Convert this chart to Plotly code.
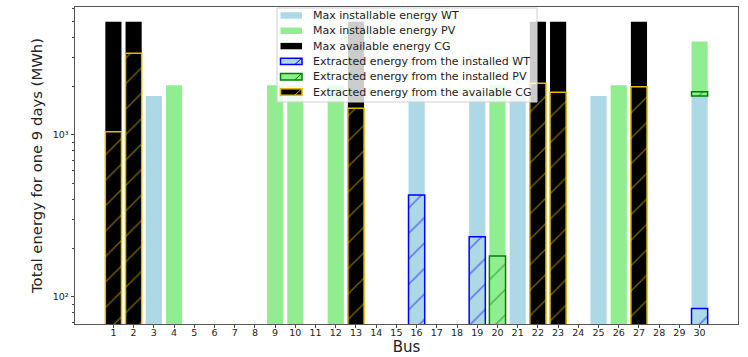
import plotly.graph_objects as go

# Max installable / available energy per bus (MWh)
wt_bus = [3, 16, 19, 21, 25, 30]
wt_max = [1740, 1740, 1740, 1740, 1740, 1740]

pv_bus = [4, 9, 10, 12, 20, 26]
pv_max = [2030, 2030, 2030, 2030, 2030, 2030]
pv_stacked_bus = [30]          # PV stacked on top of WT at bus 30
pv_stacked_max = [2030]

cg_bus = [1, 2, 13, 22, 23, 27]
cg_max = [5000, 5000, 5000, 5000, 5000, 5000]

# Extracted energy
wt_ext_bus = [16, 19, 30]
wt_ext = [426, 235, 85]

pv_ext_bus = [20]
pv_ext = [179]
pv_ext_stacked_bus = [30]
pv_ext_stacked = [110]

cg_ext_bus = [1, 2, 13, 22, 23, 27]
cg_ext = [1045, 3200, 1460, 2084, 1834, 1987]

tick_buses = list(range(1, 31))

legend_labels = [
    "Max installable energy WT",
    "Max installable energy PV",
    "Max available energy CG",
    "Extracted energy from the installed WT",
    "Extracted energy from the installed PV",
    "Extracted energy from the available CG",
]

WT_C = "#ADD8E6"
PV_C = "#90EE90"
CG_C = "#000000"
WT_E = "#0000FF"
PV_E = "#008000"
CG_E = "#E0BC00"
W = 0.8

legend_fill = [WT_C, PV_C, CG_C, WT_C, PV_C, CG_C]
legend_edge = [None, None, None, WT_E, PV_E, CG_E]

wt_base_lookup = dict(zip(wt_bus, wt_max))

fig = go.Figure()
fig.add_trace(go.Bar(x=wt_bus, y=wt_max, width=W, name=legend_labels[0],
                     marker=dict(color=WT_C, line=dict(width=0))))
fig.add_trace(go.Bar(x=pv_bus, y=pv_max, width=W, name=legend_labels[1],
                     marker=dict(color=PV_C, line=dict(width=0))))
fig.add_trace(go.Bar(x=pv_stacked_bus, y=pv_stacked_max, width=W,
                     base=[wt_base_lookup[b] for b in pv_stacked_bus],
                     name=legend_labels[1],
                     marker=dict(color=PV_C, line=dict(width=0))))
fig.add_trace(go.Bar(x=cg_bus, y=cg_max, width=W, name=legend_labels[2],
                     marker=dict(color=CG_C, line=dict(width=0))))

def pat(fg):
    return dict(shape="/", fgcolor=fg, size=18, solidity=0.08, fillmode="overlay")

fig.add_trace(go.Bar(x=wt_ext_bus, y=wt_ext, width=W, name=legend_labels[3],
                     marker=dict(color=WT_C, line=dict(color=WT_E, width=1.5), pattern=pat(WT_E))))
fig.add_trace(go.Bar(x=pv_ext_bus, y=pv_ext, width=W, name=legend_labels[4],
                     marker=dict(color=PV_C, line=dict(color=PV_E, width=1.5), pattern=pat(PV_E))))
fig.add_trace(go.Bar(x=pv_ext_stacked_bus, y=pv_ext_stacked, width=W,
                     base=[wt_base_lookup[b] for b in pv_ext_stacked_bus],
                     name=legend_labels[4],
                     marker=dict(color=PV_C, line=dict(color=PV_E, width=1.5), pattern=pat(PV_E))))
fig.add_trace(go.Bar(x=cg_ext_bus, y=cg_ext, width=W, name=legend_labels[5],
                     marker=dict(color=CG_C, line=dict(color=CG_E, width=1.5), pattern=pat(CG_E))))

minor_vals = [v * 10 ** e for e in (1, 2, 3) for v in range(2, 10)]
minor_vals = [v for v in minor_vals if 68 <= v <= 6200 and v not in (100, 1000)]

# ---- layout geometry (pixels) ----
FW, FH = 748, 357
ML, MR, MT, MB = 75, 10, 7, 33
PW, PH = FW - ML - MR, FH - MT - MB

def px(xp):
    return (xp - ML) / PW

def py(yp):
    return 1 - (yp - MT) / PH

# ---- legend drawn as shapes + text (upper center) ----
shapes = []
annotations = []
box_l, box_r, box_t, box_b = 277, 537, 8, 102
shapes.append(dict(type="rect", xref="paper", yref="paper",
                   x0=px(box_l), x1=px(box_r), y0=py(box_b), y1=py(box_t),
                   fillcolor="rgba(255,255,255,0.8)", line=dict(color="#d0d0d0", width=1),
                   layer="above"))
row0, row_h = 15.5, 15.3
for i, lab in enumerate(legend_labels):
    yc = row0 + i * row_h
    edge = legend_edge[i]
    shapes.append(dict(type="rect", xref="paper", yref="paper",
                       x0=px(280.5), x1=px(302), y0=py(yc + 3.2), y1=py(yc - 3.2),
                       fillcolor=legend_fill[i],
                       line=dict(color=edge if edge else legend_fill[i], width=1.5 if edge else 0),
                       layer="above"))
    if edge:
        shapes.append(dict(type="line", xref="paper", yref="paper",
                           x0=px(295), x1=px(301.5), y0=py(yc + 3), y1=py(yc - 3),
                           line=dict(color=edge, width=1), layer="above"))
    annotations.append(dict(text=lab, xref="paper", yref="paper", x=px(311), y=py(yc),
                            xanchor="left", yanchor="middle", showarrow=False,
                            font=dict(size=11, family="DejaVu Sans", color="#222")))

fig.update_layout(
    width=FW, height=FH,
    barmode="overlay",
    plot_bgcolor="white", paper_bgcolor="white",
    font=dict(family="DejaVu Sans", color="#222"),
    margin=dict(l=ML, r=MR, t=MT, b=MB, autoexpand=False),
    showlegend=False,
    shapes=shapes,
    annotations=annotations,
    xaxis=dict(range=[-0.9, 31.9], tickmode="array", tickvals=tick_buses,
               ticktext=[str(b) for b in tick_buses],
               ticks="outside", ticklen=3, tickcolor="#444", tickfont=dict(size=9.5),
               ticklabelstandoff=-3, automargin=False,
               showline=True, linecolor="#555", linewidth=1, mirror=True,
               showgrid=False, zeroline=False,
               title=dict(text="Bus", font=dict(size=15), standoff=2)),
    yaxis=dict(type="log", range=[1.833, 3.79], tickmode="array",
               tickvals=[100, 1000], ticktext=["10²", "10³"],
               ticks="outside", ticklen=3.5, tickcolor="#444", tickfont=dict(size=9.5),
               automargin=False,
               minor=dict(tickmode="array", tickvals=minor_vals, ticks="outside",
                          ticklen=2, tickcolor="#444", showgrid=False),
               showline=True, linecolor="#555", linewidth=1, mirror=True,
               showgrid=False, zeroline=False,
               title=dict(text="Total energy for one 9 days (MWh)", font=dict(size=14.8), standoff=6)),
)

fig.write_html("out.html")
